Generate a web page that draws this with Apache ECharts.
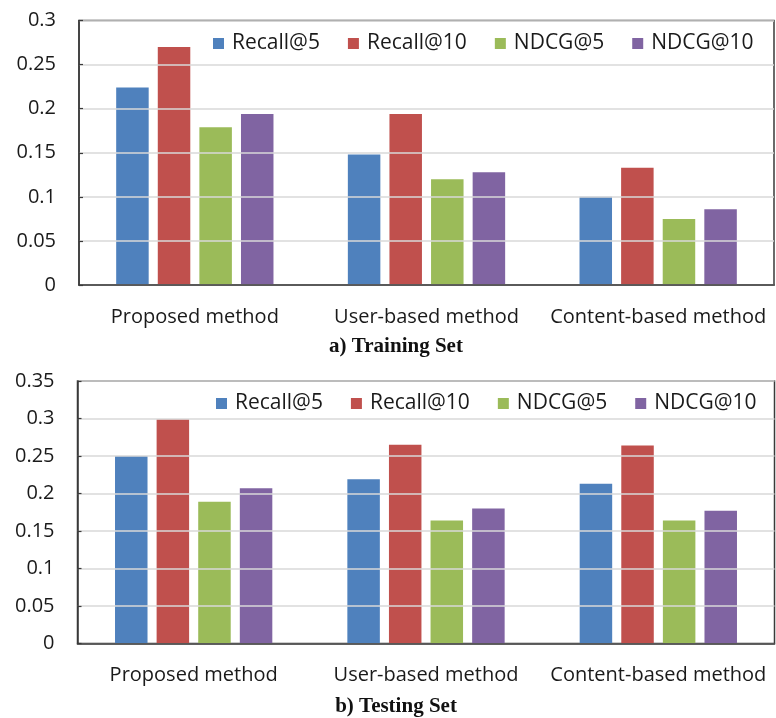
<!DOCTYPE html>
<html>
<head>
<meta charset="utf-8">
<style>
  html, body { margin: 0; padding: 0; background: #fff; }
  #chart { width: 776px; height: 718px; }
</style>
<script src="https://cdn.jsdelivr.net/npm/echarts@6/dist/echarts.min.js"></script>
</head>
<body>
<div id="chart"></div>
<script>
// Categories and metrics shared by both panels
const methods = ['Proposed method', 'User-based method', 'Content-based method'];
const metrics = ['Recall@5', 'Recall@10', 'NDCG@5', 'NDCG@10'];
const colors = ['#4F81BD', '#C0504D', '#9BBB59', '#8064A2'];

// a) Training set scores, one array per metric (ordered by method)
const trainRecall5 = [0.224, 0.148, 0.100];
const trainRecall10 = [0.270, 0.194, 0.133];
const trainNdcg5 = [0.179, 0.120, 0.075];
const trainNdcg10 = [0.194, 0.128, 0.086];

// b) Testing set scores
const testRecall5 = [0.250, 0.219, 0.213];
const testRecall10 = [0.299, 0.265, 0.264];
const testNdcg5 = [0.189, 0.164, 0.164];
const testNdcg10 = [0.207, 0.180, 0.177];

// Value-axis ranges
const trainAxisMax = 0.3;
const testAxisMax = 0.35;
const axisStep = 0.05;

const captions = ['a) Training Set', 'b) Testing Set'];

const trainSets = [trainRecall5, trainRecall10, trainNdcg5, trainNdcg10];
const testSets = [testRecall5, testRecall10, testNdcg5, testNdcg10];

const font = '"Open Sans", "Noto Sans", sans-serif';
const textColor = '#1a1a1a';
const frameColor = '#3a3a3a';
const captionFont = 'bold 21px "Liberation Serif", "DejaVu Serif", serif';

function makeSeries(sets, gridIdx) {
  return sets.map((vals, i) => ({
    name: metrics[i],
    type: 'bar',
    xAxisIndex: gridIdx,
    yAxisIndex: gridIdx,
    data: vals,
    barWidth: 32.5,
    barGap: '28%',
    itemStyle: { color: colors[i] },
    emphasis: { disabled: true }
  }));
}

function xAxisFor(gridIdx) {
  return {
    type: 'category',
    gridIndex: gridIdx,
    data: methods,
    z: 5,
    axisLine: { show: true, lineStyle: { color: frameColor, width: 1.5 } },
    axisTick: { show: false },
    axisLabel: { interval: 0, color: textColor, fontFamily: font, fontSize: 20, margin: 22 }
  };
}

function yAxisFor(gridIdx, max) {
  return {
    type: 'value',
    gridIndex: gridIdx,
    min: 0,
    max: max,
    interval: axisStep,
    z: 5,
    axisLine: { show: true, lineStyle: { color: frameColor, width: 1.5 } },
    axisTick: { show: true, inside: true, length: 4, lineStyle: { color: frameColor, width: 1.2 } },
    axisLabel: { color: textColor, fontFamily: font, fontSize: 20, margin: 23 },
    splitLine: { show: true, lineStyle: { color: '#d9d9d9', width: 1.5 } }
  };
}

function legendFor(left, top) {
  return {
    left: left,
    top: top,
    itemWidth: 11,
    itemHeight: 11,
    itemGap: 28,
    icon: 'rect',
    selectedMode: false,
    data: metrics,
    textStyle: { color: textColor, fontFamily: font, fontSize: 21, padding: [0, 0, 0, 3] }
  };
}

const chart = echarts.init(document.getElementById('chart'), null, { renderer: 'canvas' });

chart.setOption({
  backgroundColor: '#ffffff',
  animation: false,
  grid: [
    { left: 79, top: 20.5, width: 695, height: 264.5, show: true, borderColor: frameColor, borderWidth: 1.5, backgroundColor: 'transparent' },
    { left: 77.5, top: 381, width: 697, height: 262.5, show: true, borderColor: frameColor, borderWidth: 1.5, backgroundColor: 'transparent' }
  ],
  legend: [legendFor(208, 28), legendFor(211, 388)],
  xAxis: [xAxisFor(0), xAxisFor(1)],
  yAxis: [yAxisFor(0, trainAxisMax), yAxisFor(1, testAxisMax)],
  series: makeSeries(trainSets, 0).concat(makeSeries(testSets, 1)),
  graphic: [
    {
      type: 'text', x: 396, y: 347,
      style: { text: captions[0], fill: '#111', font: captionFont, align: 'center', verticalAlign: 'middle' }
    },
    {
      type: 'text', x: 396, y: 707,
      style: { text: captions[1], fill: '#111', font: captionFont, align: 'center', verticalAlign: 'middle' }
    }
  ]
});
</script>
</body>
</html>
